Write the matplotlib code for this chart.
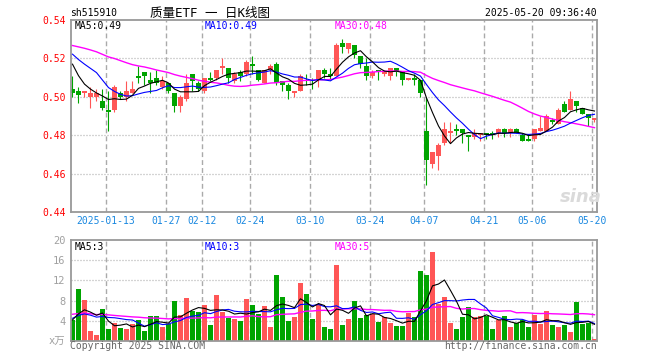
import numpy as np
import pandas as pd
import matplotlib
matplotlib.use("Agg")
import matplotlib.pyplot as plt

# ---- data ----
opens = [0.504, 0.503, 0.502, 0.500, 0.500, 0.498, 0.493, 0.493, 0.502, 0.500,
         0.502, 0.511, 0.513, 0.509, 0.510, 0.505, 0.507, 0.502, 0.495, 0.499,
         0.512, 0.507, 0.503, 0.510, 0.510, 0.515, 0.515, 0.508, 0.513, 0.512,
         0.517, 0.514, 0.507, 0.514, 0.517, 0.508, 0.506, 0.502, 0.503, 0.509,
         0.509, 0.509, 0.514, 0.512, 0.511, 0.528, 0.525, 0.527, 0.521, 0.516,
         0.511, 0.514, 0.512, 0.511, 0.515, 0.513, 0.509, 0.510, 0.509, 0.482,
         0.465, 0.469, 0.476, 0.481, 0.483, 0.483, 0.480, 0.479, 0.480, 0.481,
         0.481, 0.481, 0.483, 0.481, 0.483, 0.480, 0.478, 0.478, 0.482, 0.482,
         0.488, 0.486, 0.496, 0.493, 0.498, 0.494, 0.491, 0.488]
highs = [0.511, 0.505, 0.503, 0.505, 0.504, 0.504, 0.503, 0.506, 0.503, 0.508,
         0.508, 0.516, 0.513, 0.513, 0.514, 0.511, 0.507, 0.502, 0.501, 0.512,
         0.512, 0.508, 0.510, 0.513, 0.514, 0.520, 0.515, 0.513, 0.514, 0.519,
         0.521, 0.514, 0.514, 0.517, 0.518, 0.508, 0.507, 0.503, 0.512, 0.512,
         0.510, 0.514, 0.515, 0.515, 0.528, 0.530, 0.528, 0.527, 0.521, 0.520,
         0.514, 0.514, 0.514, 0.515, 0.515, 0.513, 0.510, 0.512, 0.509, 0.500,
         0.471, 0.476, 0.487, 0.487, 0.486, 0.483, 0.480, 0.483, 0.481, 0.481,
         0.482, 0.484, 0.484, 0.484, 0.484, 0.481, 0.480, 0.483, 0.490, 0.491,
         0.489, 0.494, 0.498, 0.503, 0.498, 0.494, 0.491, 0.489]
lows = [0.500, 0.497, 0.500, 0.494, 0.498, 0.493, 0.482, 0.492, 0.499, 0.498,
        0.502, 0.507, 0.506, 0.502, 0.506, 0.504, 0.502, 0.492, 0.492, 0.498,
        0.503, 0.503, 0.502, 0.508, 0.509, 0.512, 0.507, 0.507, 0.508, 0.511,
        0.512, 0.508, 0.507, 0.512, 0.506, 0.503, 0.499, 0.500, 0.503, 0.506,
        0.504, 0.505, 0.510, 0.509, 0.511, 0.523, 0.523, 0.520, 0.515, 0.509,
        0.510, 0.509, 0.511, 0.509, 0.511, 0.506, 0.509, 0.506, 0.500, 0.454,
        0.463, 0.462, 0.475, 0.476, 0.480, 0.476, 0.472, 0.478, 0.477, 0.478,
        0.478, 0.479, 0.479, 0.479, 0.481, 0.477, 0.477, 0.477, 0.482, 0.482,
        0.486, 0.486, 0.492, 0.493, 0.492, 0.491, 0.485, 0.487]
closes = [0.502, 0.501, 0.503, 0.502, 0.502, 0.494, 0.492, 0.505, 0.500, 0.503,
          0.504, 0.510, 0.511, 0.507, 0.507, 0.508, 0.503, 0.495, 0.500, 0.507,
          0.508, 0.504, 0.510, 0.509, 0.514, 0.516, 0.510, 0.512, 0.511, 0.518,
          0.516, 0.509, 0.514, 0.516, 0.507, 0.506, 0.503, 0.503, 0.511, 0.508,
          0.508, 0.514, 0.512, 0.511, 0.527, 0.526, 0.528, 0.522, 0.517, 0.511,
          0.513, 0.513, 0.513, 0.515, 0.513, 0.509, 0.510, 0.509, 0.502, 0.467,
          0.471, 0.475, 0.483, 0.482, 0.482, 0.481, 0.479, 0.481, 0.481, 0.480,
          0.480, 0.483, 0.481, 0.483, 0.481, 0.477, 0.477, 0.483, 0.484, 0.490,
          0.487, 0.493, 0.492, 0.499, 0.495, 0.491, 0.489, 0.489]
volumes = [4.1, 10.3, 8.1, 1.9, 1.1, 6.3, 2.3, 3.5, 2.5, 2.3,
           3.3, 4.2, 1.9, 4.9, 4.9, 2.7, 3.3, 7.9, 5.1, 8.5,
           5.9, 5.7, 7.1, 3.1, 9.1, 5.7, 4.5, 4.3, 3.9, 8.3,
           7.1, 5.3, 6.9, 2.7, 13.0, 8.7, 3.9, 4.7, 11.5, 9.3,
           4.3, 7.3, 2.7, 2.3, 15.0, 3.1, 4.3, 7.9, 4.5, 5.1,
           5.3, 3.7, 4.7, 3.5, 2.9, 2.9, 5.5, 4.7, 13.8, 13.0,
           17.6, 7.3, 8.7, 3.5, 2.3, 4.7, 6.7, 4.7, 4.9, 4.9,
           2.3, 4.1, 4.9, 2.7, 3.5, 4.1, 2.7, 5.1, 3.3, 5.9,
           3.1, 2.7, 3.1, 1.7, 7.7, 3.3, 3.5, 0.3]

# closes / volumes before the window, only used to warm up the moving averages
pre_close = [0.522, 0.525, 0.528, 0.531, 0.534, 0.532, 0.530, 0.533, 0.536, 0.534,
             0.530, 0.527, 0.529, 0.532, 0.528, 0.524, 0.526, 0.524, 0.527, 0.527,
             0.529, 0.527, 0.524, 0.524, 0.533, 0.531, 0.525, 0.515, 0.512]
pre_vol = [6.1, 5.4, 5.8, 6.5, 4.9, 5.2, 6.8, 5.5, 5.0, 6.2,
           5.9, 5.3, 6.4, 5.6, 4.8, 5.7, 6.0, 5.1, 5.8, 6.0,
           4.6, 5.2, 4.4, 4.9, 5.0, 4.3, 4.1, 4.2, 4.2]

holidays = ["2025-01-28", "2025-01-29", "2025-01-30", "2025-01-31", "2025-02-03",
            "2025-02-04", "2025-04-04", "2025-05-01", "2025-05-02", "2025-05-05"]
tick_dates = ["2025-01-13", "2025-01-27", "2025-02-12", "2025-02-24", "2025-03-10",
              "2025-03-24", "2025-04-07", "2025-04-21", "2025-05-06", "2025-05-20"]

price_ticks = [0.44, 0.46, 0.48, 0.50, 0.52, 0.54]
vol_ticks = [0, 4, 8, 12, 16, 20]

RED = "#FF5656"
GREEN = "#00A400"
GRID = "#AAAAAA"
DATE_BLUE = "#1A88E0"
MONO = ["DejaVu Sans Mono", "Noto Sans CJK SC"]

W, H = 660, 360


def px(x, y):
    return x / W, 1 - y / H


def moving_avg(pre, vals, n):
    full = pd.Series(list(pre) + list(vals))
    return full.rolling(n).mean().to_numpy()[len(pre):]


days = pd.bdate_range("2025-01-03", "2025-05-20")
days = days[~days.isin(pd.to_datetime(holidays))]
tick_idx = [days.get_loc(pd.Timestamp(d)) for d in tick_dates]
tick_lbl = [tick_dates[0]] + [d[5:] for d in tick_dates[1:]]

o = np.array(opens)
h = np.array(highs)
l = np.array(lows)
c = np.array(closes)
v = np.array(volumes)
x = np.arange(len(c))
cols = np.where(c >= o, RED, GREEN)

fig = plt.figure(figsize=(W / 100, H / 100), dpi=100)
ax = fig.add_axes([71 / W, 1 - 212 / H, 526 / W, 192 / H])
axv = fig.add_axes([71 / W, 1 - 341 / H, 526 / W, 101 / H])

grid_x = [i - 0.42 for i in tick_idx]
for a in (ax, axv):
    a.set_xlim(-0.25, 87.42)
    for gx in grid_x:
        a.axvline(gx, color=GRID, lw=1.0, ls=(0, (3.5, 2.2)), zorder=0)
    for sp in a.spines.values():
        sp.set_color("#999999")
        sp.set_linewidth(1.3)
    a.tick_params(length=0)

# price panel
ax.set_ylim(0.44, 0.54)
for yv in price_ticks[1:-1]:
    ax.axhline(yv, color=GRID, lw=0.9, ls=(0, (0.8, 1.6)), zorder=0)
ax.vlines(x, l, h, colors=cols, lw=0.8, zorder=2)
ax.bar(x, np.maximum(np.abs(c - o), 0.0006), bottom=np.minimum(o, c),
       width=0.83, color=cols, lw=0, zorder=2)
ax.plot(x, moving_avg(pre_close, c, 30), color="#FF00FF", lw=1.0, zorder=3)
ax.plot(x, moving_avg(pre_close, c, 10), color="#0000FF", lw=0.8, zorder=3)
ax.plot(x, moving_avg(pre_close, c, 5), color="black", lw=0.8, zorder=3)
ax.set_yticks(price_ticks)
ax.set_yticklabels([f"{t:.2f}" for t in price_ticks], color="red",
                   fontsize=7, family="DejaVu Sans Mono")
ax.set_xticks(grid_x)
ax.set_xticklabels(tick_lbl, color=DATE_BLUE, fontsize=7, family="DejaVu Sans Mono")
ax.tick_params(axis="x", pad=3)
ax.tick_params(axis="y", pad=4)

# volume panel
axv.set_ylim(0, 20)
for yv in vol_ticks[1:-1]:
    axv.axhline(yv, color=GRID, lw=0.9, ls=(0, (0.8, 1.6)), zorder=0)
axv.bar(x, v, width=0.83, color=cols, lw=0, zorder=2)
axv.plot(x, moving_avg(pre_vol, v, 30), color="#FF00FF", lw=1.0, zorder=3)
axv.plot(x, moving_avg(pre_vol, v, 10), color="#0000FF", lw=0.8, zorder=3)
axv.plot(x, moving_avg(pre_vol, v, 5), color="black", lw=0.8, zorder=3)
axv.set_xticks([])
axv.set_yticks(vol_ticks)
axv.set_yticklabels(["x万"] + [str(t) for t in vol_ticks[1:]], color="#A0A0A0",
                    fontsize=7.5, family=MONO)
axv.tick_params(axis="y", pad=4)

# header / legends
fig.text(*px(70, 13), "sh515910", fontsize=7, family=MONO, va="center", ha="left")
fig.text(*px(210, 13), "质量ETF 一 日K线图", fontsize=9, family=MONO,
         va="center", ha="center")
fig.text(*px(597, 13), "2025-05-20 09:36:40", fontsize=7, family=MONO,
         va="center", ha="right")

for xx, txt, col in [(75, "MA5:0.49", "black"), (205, "MA10:0.49", "#0000FF"),
                     (335, "MA30:0.48", "#FF00FF")]:
    fig.text(*px(xx, 26), txt, fontsize=7, family=MONO, color=col, va="center")
for xx, txt, col in [(75, "MA5:3", "black"), (205, "MA10:3", "#0000FF"),
                     (335, "MA30:5", "#FF00FF")]:
    fig.text(*px(xx, 247), txt, fontsize=7, family=MONO, color=col, va="center")

# watermark
fig.text(*px(581, 197), "sina", fontsize=13, fontweight="bold", style="italic",
         color="#DADADA", ha="center", va="center")

fig.text(*px(70, 346), "Copyright 2025 SINA.COM", fontsize=7, family=MONO,
         color="#666666", va="center", ha="left")
fig.text(*px(597, 346), "http://finance.sina.com.cn", fontsize=7, family=MONO,
         color="#666666", va="center", ha="right")

fig.savefig("out.png", dpi=100, facecolor="white")
